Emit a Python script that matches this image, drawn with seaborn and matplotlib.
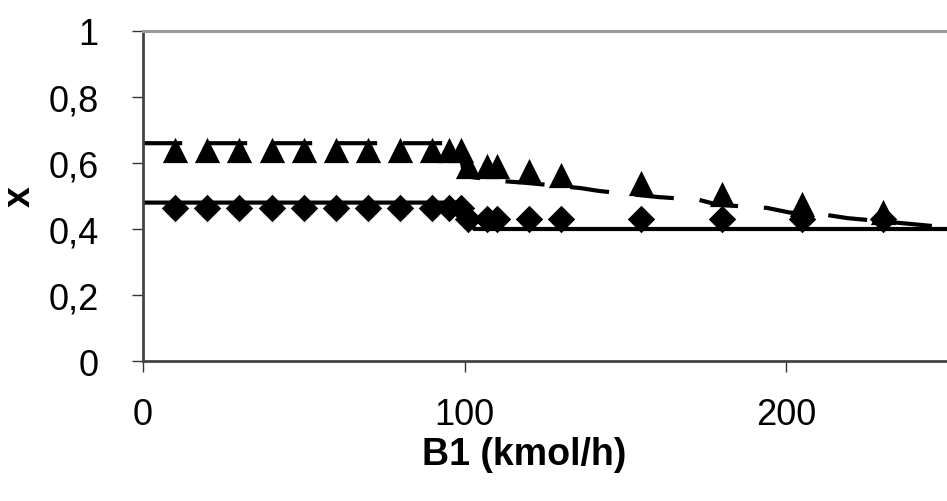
import matplotlib
matplotlib.use("Agg")
import matplotlib.pyplot as plt
import seaborn as sns

# ---- data ----
b1_points = [10, 20, 30, 40, 50, 60, 70, 80, 90, 95, 99, 101, 107, 110, 120, 130, 155, 180, 205, 230]
x_triangles = [0.64, 0.64, 0.64, 0.64, 0.64, 0.64, 0.64, 0.64, 0.64, 0.64, 0.64,
               0.59, 0.59, 0.59, 0.575, 0.565, 0.538, 0.507, 0.477, 0.453]
x_diamonds = [0.465, 0.465, 0.465, 0.465, 0.465, 0.465, 0.465, 0.465, 0.465, 0.465, 0.465,
              0.43, 0.43, 0.43, 0.43, 0.43, 0.43, 0.43, 0.43, 0.43]

b1_model_upper = [0, 98, 100, 112, 119, 136, 142, 160, 173, 179, 194, 201, 213, 219, 239, 250]
x_model_upper = [0.66, 0.66, 0.56, 0.545, 0.54, 0.524, 0.515, 0.497, 0.488, 0.473,
                 0.464, 0.45, 0.442, 0.433, 0.415, 0.405]

b1_model_lower = [0, 100, 103, 250]
x_model_lower = [0.48, 0.48, 0.40, 0.40]

x_ticks = [0, 100, 200]
y_ticks = [0, 0.2, 0.4, 0.6, 0.8, 1.0]
y_tick_labels = ["0", "0,2", "0,4", "0,6", "0,8", "1"]

# ---- style ----
sns.set_style("ticks")
plt.rcParams["font.family"] = ["Liberation Sans", "DejaVu Sans"]

fig = plt.figure(figsize=(9.47, 5.02), dpi=100)
ax = fig.add_axes([143 / 947, 140 / 502, 804 / 947, 330 / 502])

# model lines
sns.lineplot(x=b1_model_lower, y=x_model_lower, ax=ax, color="black",
             linewidth=3, linestyle="-", zorder=2)
sns.lineplot(x=b1_model_upper, y=x_model_upper, ax=ax, color="black",
             linewidth=3, linestyle=(0, (9.4, 6.2)), zorder=2)

# experimental points
sns.scatterplot(x=b1_points, y=x_triangles, ax=ax, marker="^", s=330,
                color="black", edgecolor="black", linewidth=0, zorder=3)
sns.scatterplot(x=b1_points, y=x_diamonds, ax=ax, marker="D", s=195,
                color="black", edgecolor="black", linewidth=0, zorder=3)

ax.set_xlim(0, 250)
ax.set_ylim(0, 1)
ax.set_xticks(x_ticks)
ax.set_xticklabels([str(t) for t in x_ticks])
ax.set_yticks(y_ticks)
ax.set_yticklabels(y_tick_labels)

ax.tick_params(axis="both", labelsize=26, length=8, width=1, color="#333333",
               labelcolor="black", direction="out")
ax.tick_params(axis="y", pad=24)
ax.tick_params(axis="x", pad=18)

for side in ("left", "bottom"):
    ax.spines[side].set_color("#444444")
    ax.spines[side].set_linewidth(2)
ax.spines["top"].set_visible(True)
ax.spines["top"].set_color("#999999")
ax.spines["top"].set_linewidth(2.2)
ax.spines["right"].set_visible(False)

ax.set_xlabel("B1 (kmol/h)", fontsize=27, fontweight="bold", color="black")
ax.set_ylabel("x", fontsize=27, fontweight="bold", rotation=90, color="black")
ax.xaxis.label.set_va("center")
ax.yaxis.label.set_va("center")
ax.xaxis.set_label_coords((524 - 143) / 804, (362 - 455) / 330)
ax.yaxis.set_label_coords((20 - 143) / 804, (362 - 197) / 330)

fig.savefig("out.png", dpi=100)
